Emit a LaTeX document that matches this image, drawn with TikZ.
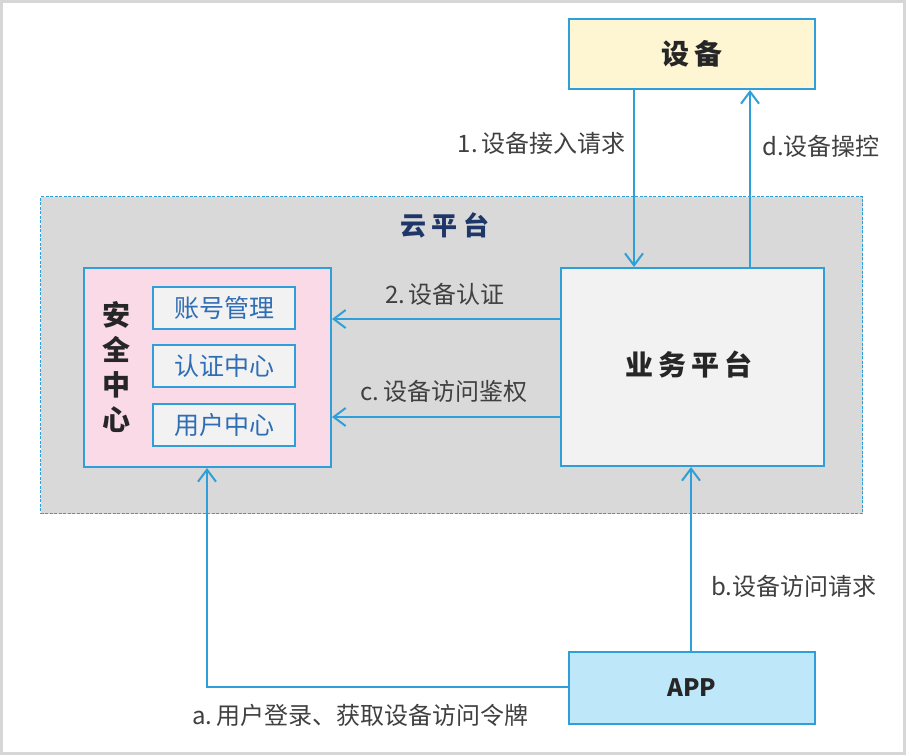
\documentclass[tikz,border=0pt]{standalone}
\usepackage{fontspec}
\setmainfont{Noto Sans CJK SC}
\usetikzlibrary{arrows.meta}
\definecolor{bblue}{HTML}{2E9FD8}
\definecolor{devfill}{HTML}{FEF5D2}
\definecolor{pinkfill}{HTML}{FBDAE7}
\definecolor{appfill}{HTML}{BEE8FA}
\definecolor{boxfill}{HTML}{F2F2F2}
\definecolor{cloudfill}{HTML}{D9D9D9}
\definecolor{navy}{HTML}{1F3668}
\definecolor{subtext}{HTML}{2F6DB5}
\definecolor{lbl}{HTML}{404040}
\definecolor{frame}{HTML}{D6D6D6}
\newcommand{\gs}{\hspace{5pt}}
\tikzset{
  bx/.style={draw=bblue, line width=2pt, inner sep=0pt, anchor=north west},
  subbox/.style={bx, fill=boxfill, minimum width=142pt, minimum height=42pt,
    font=\fontsize{25}{28}\selectfont, text=subtext},
  conn/.style={draw=bblue, line width=2pt, -{Straight Barb[length=12pt,width=18pt,line width=2pt]}},
  lab/.style={font=\fontsize{24}{27}\selectfont, text=lbl, inner sep=0pt},
  bigtxt/.style={font=\bfseries\fontsize{28}{30}\selectfont, text=black!85}
}
\begin{document}
\begin{tikzpicture}[x=1pt,y=-1pt]
\useasboundingbox (0,0) rectangle (906,755);
\fill[white] (0,0) rectangle (906,755);
\draw[frame, line width=3pt] (1.5,1.5) rectangle (904.5,753.5);
% cloud platform
\node[bx, draw=bblue, line width=1.3pt, dash pattern=on 3pt off 1.5pt, fill=cloudfill,
  minimum width=822pt, minimum height=317pt] (cloud) at (40,196) {};
\node[font=\bfseries\fontsize{26}{30}\selectfont, text=navy] (cloudlbl) at (445,225) {云\hspace{6pt}平\hspace{6pt}台};
% device
\node[bx, fill=devfill, minimum width=246pt, minimum height=70pt] (dev) at (568,18) {};
\node[bigtxt] (devlbl) at (dev.center) {设\gs 备};
% business platform
\node[bx, fill=boxfill, minimum width=263pt, minimum height=198pt] (biz) at (560,267) {};
\node[bigtxt] (bizlbl) at (689,365) {业\gs 务\gs 平\gs 台};
% security center
\node[bx, fill=pinkfill, minimum width=247pt, minimum height=199pt] (sec) at (83,267) {};
\node[font=\bfseries\fontsize{28}{35}\selectfont, text=black!85, align=center] (seclbl) at (116,367) {安\\全\\中\\心};
\node[subbox] (acc) at (152,286) {账号管理};
\node[subbox] (auth) at (152,344) {认证中心};
\node[subbox] (user) at (152,403) {用户中心};
% APP
\node[bx, fill=appfill, minimum width=246pt, minimum height=72pt] (app) at (568,651) {};
\node[font=\bfseries\fontsize{24}{28}\selectfont, text=black!85] (applbl) at (app.center) {APP};
% coordinates
\coordinate (d1) at (dev.south west -| 634,0);
\coordinate (b1) at (biz.north west -| 634,0);
\coordinate (d2) at (dev.south west -| 750,0);
\coordinate (b2) at (biz.north west -| 750,0);
\coordinate (bl2) at (biz.north west |- 0,319);
\coordinate (sr2) at (sec.north east |- 0,319);
\coordinate (blc) at (biz.north west |- 0,417);
\coordinate (src) at (sec.north east |- 0,417);
\coordinate (ab) at (app.north west -| 691,0);
\coordinate (bb) at (biz.south west -| 691,0);
\coordinate (al) at (app.north west |- 0,687);
\coordinate (corner) at (207,687);
\coordinate (sb) at (sec.south west -| 207,0);
% connectors
\draw[conn] (d1) -- (b1);
\draw[conn] (b2) -- (d2);
\draw[conn] (bl2) -- (sr2);
\draw[conn] (blc) -- (src);
\draw[conn] (ab) -- (bb);
\draw[conn] (al) -- (corner) -- (sb);
% labels
\node[lab, anchor=east] (l1) at (626,143) {1.\,设备接入请求};
\node[lab, anchor=west] (ld) at (762,146) {d.设备操控};
\node[lab] (l2) at (445,294) {2.\,设备认证};
\node[lab] (lc) at (444,391) {c.\,设备访问鉴权};
\node[lab, anchor=west] (lb) at (711,586) {b.设备访问请求};
\node[lab, anchor=west] (la) at (192,715) {a.\,用户登录、获取设备访问令牌};
\end{tikzpicture}
\end{document}
